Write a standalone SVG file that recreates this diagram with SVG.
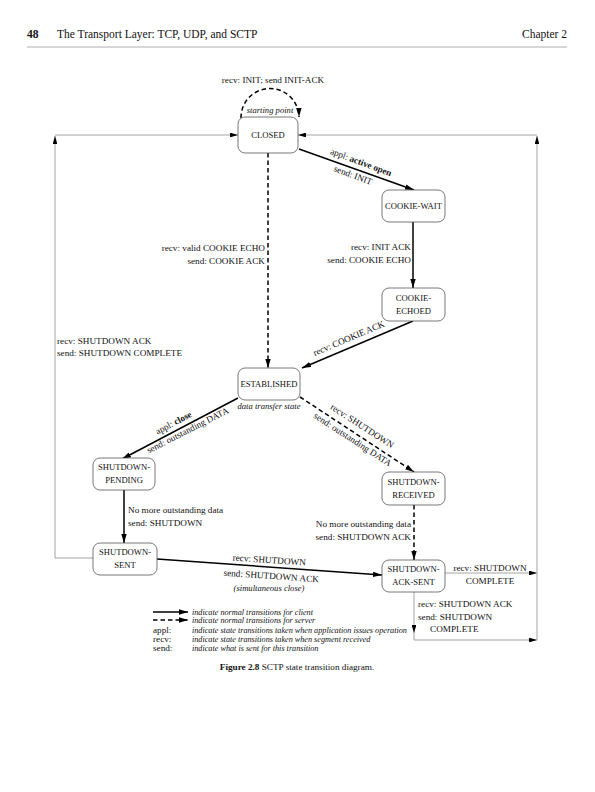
<svg xmlns="http://www.w3.org/2000/svg" width="595" height="792" viewBox="0 0 595 792">
<style>
text{font-family:"Liberation Serif","Times New Roman",serif;fill:#111;}
.t{font-size:9.2px;}
.n{font-size:8.6px;text-anchor:middle;}
.i{font-style:italic;font-size:8.6px;}
.lg{font-style:italic;font-size:8.2px;}
.hd{font-size:11.5px;}
.box{fill:#fff;stroke:#555;stroke-width:0.8;}
.bold{stroke:#000;stroke-width:1.5;fill:none;}
.dash{stroke:#000;stroke-width:1.5;fill:none;stroke-dasharray:4.5,3;}
.thin{stroke:#999;stroke-width:0.9;fill:none;}
</style>
<defs>
<marker id="ah" viewBox="0 0 10 6" refX="10" refY="3" markerWidth="9" markerHeight="5.4" markerUnits="userSpaceOnUse" orient="auto"><path d="M0,0 L10,3 L0,6 z" fill="#000"/></marker>
<marker id="as" viewBox="0 0 10 6" refX="10" refY="3" markerWidth="8" markerHeight="4.8" markerUnits="userSpaceOnUse" orient="auto"><path d="M0,0 L10,3 L0,6 z" fill="#000"/></marker>
</defs>

<g id="header">
<text x="27" y="38" class="hd" font-weight="bold">48</text>
<text x="57" y="38" class="hd">The Transport Layer: TCP, UDP, and SCTP</text>
<text x="567" y="38" class="hd" text-anchor="end">Chapter 2</text>
<line x1="27" y1="47" x2="567" y2="47" stroke="#999" stroke-width="0.8"/>
</g>

<g id="connectors">
<path class="dash" d="M241,118 A29,29 0 1 1 299,117" marker-end="url(#ah)"/>
<path class="thin" d="M93,558 H55 V136" marker-end="url(#as)"/>
<path class="thin" d="M55,135 H238" marker-end="url(#as)"/>
<path class="thin" d="M445,573 H537" marker-end="url(#as)"/>
<path class="thin" d="M414,592 V633" marker-end="url(#as)"/>
<path class="thin" d="M414,633 V640"/>
<path class="thin" d="M414,640 H537" marker-end="url(#as)"/>
<path class="thin" d="M537,640 V136" marker-end="url(#as)"/>
<path class="thin" d="M537,135 H298" marker-end="url(#as)"/>
<line class="bold" x1="299" y1="149" x2="414" y2="190" marker-end="url(#ah)"/>
<line class="bold" x1="413" y1="222" x2="413" y2="288" marker-end="url(#ah)"/>
<line class="bold" x1="413" y1="321" x2="302" y2="368" marker-end="url(#ah)"/>
<line class="dash" x1="268" y1="153" x2="268" y2="368" marker-end="url(#ah)"/>
<line class="bold" x1="238" y1="398" x2="122" y2="459" marker-end="url(#ah)"/>
<line class="dash" x1="300" y1="397" x2="414" y2="472" marker-end="url(#ah)"/>
<line class="bold" x1="124" y1="490" x2="124" y2="543" marker-end="url(#ah)"/>
<line class="dash" x1="414" y1="505" x2="414" y2="560" marker-end="url(#ah)"/>
<line class="bold" x1="157" y1="559" x2="382" y2="575" marker-end="url(#ah)"/>
</g>

<g id="labels">
<text x="273" y="83" class="t" text-anchor="middle">recv: INIT; send INIT-ACK</text>
<text x="270" y="113" class="i" text-anchor="middle">starting point</text>
<text class="t" text-anchor="middle" transform="translate(360,165) rotate(20.5)">appl: <tspan font-weight="bold">active open</tspan></text>
<text class="t" text-anchor="middle" transform="translate(352,178) rotate(20.5)">send: INIT</text>
<text x="411" y="250" class="t" text-anchor="end">recv: INIT ACK</text>
<text x="411" y="263" class="t" text-anchor="end">send: COOKIE ECHO</text>
<text x="265" y="251" class="t" text-anchor="end">recv: valid COOKIE ECHO</text>
<text x="265" y="264" class="t" text-anchor="end">send: COOKIE ACK</text>
<text class="t" text-anchor="middle" transform="translate(350,341) rotate(-23)">recv: COOKIE ACK</text>
<text x="57" y="344" class="t">recv: SHUTDOWN ACK</text>
<text x="57" y="356" class="t">send: SHUTDOWN COMPLETE</text>
<text x="269" y="409" class="i" text-anchor="middle">data transfer state</text>
<text class="t" text-anchor="middle" font-size="8.8px" transform="translate(175,425.5) rotate(-28)">appl: <tspan font-weight="bold">close</tspan></text>
<text class="t" text-anchor="middle" font-size="8.8px" transform="translate(189,433) rotate(-27)">send: outstanding DATA</text>
<text class="t" text-anchor="middle" transform="translate(360.5,428.5) rotate(33)">recv: SHUTDOWN</text>
<text class="t" text-anchor="middle" font-size="8.8px" transform="translate(351,442) rotate(33)">send: outstanding DATA</text>
<text x="128" y="513" class="t">No more outstanding data</text>
<text x="128" y="526" class="t">send: SHUTDOWN</text>
<text x="411" y="527" class="t" text-anchor="end">No more outstanding data</text>
<text x="411" y="540" class="t" text-anchor="end">send: SHUTDOWN ACK</text>
<text class="t" text-anchor="middle" transform="translate(269,563) rotate(4)">recv: SHUTDOWN</text>
<text class="t" text-anchor="middle" transform="translate(271,579) rotate(4)">send: SHUTDOWN ACK</text>
<text x="269" y="591" class="i" text-anchor="middle">(simultaneous close)</text>
<text x="490" y="571" class="t" text-anchor="middle">recv: SHUTDOWN</text>
<text x="490" y="584" class="t" text-anchor="middle">COMPLETE</text>
<text x="418" y="607" class="t">recv: SHUTDOWN ACK</text>
<text x="418" y="620" class="t">send: SHUTDOWN</text>
<text x="430" y="632" class="t">COMPLETE</text>
</g>

<g id="closed"><rect class="box" x="238" y="117" width="60" height="36" rx="7"/><text x="268" y="138" class="n">CLOSED</text></g>
<g id="cookie-wait"><rect class="box" x="382" y="190" width="63" height="32" rx="7"/><text x="413.5" y="209" class="n">COOKIE-WAIT</text></g>
<g id="cookie-echoed"><rect class="box" x="382" y="288" width="63" height="33" rx="7"/><text x="413.5" y="301" class="n">COOKIE-</text><text x="413.5" y="313.5" class="n">ECHOED</text></g>
<g id="established"><rect class="box" x="238" y="368" width="62" height="32" rx="7"/><text x="269" y="387" class="n">ESTABLISHED</text></g>
<g id="shutdown-pending"><rect class="box" x="93" y="458" width="62" height="32" rx="7"/><text x="124" y="470" class="n">SHUTDOWN-</text><text x="124" y="482.5" class="n">PENDING</text></g>
<g id="shutdown-sent"><rect class="box" x="93" y="543" width="64" height="32" rx="7"/><text x="125" y="555" class="n">SHUTDOWN-</text><text x="125" y="567.5" class="n">SENT</text></g>
<g id="shutdown-received"><rect class="box" x="382" y="472" width="63" height="33" rx="7"/><text x="413.5" y="485" class="n">SHUTDOWN-</text><text x="413.5" y="497.5" class="n">RECEIVED</text></g>
<g id="shutdown-ack-sent"><rect class="box" x="382" y="560" width="63" height="32" rx="7"/><text x="413.5" y="572" class="n">SHUTDOWN-</text><text x="413.5" y="584.5" class="n">ACK-SENT</text></g>

<g id="legend">
<line class="bold" x1="153" y1="612" x2="188" y2="612" marker-end="url(#ah)"/>
<line class="dash" x1="153" y1="620" x2="188" y2="620" marker-end="url(#ah)"/>
<text x="192" y="615" class="lg">indicate normal transitions for client</text>
<text x="192" y="623" class="lg">indicate normal transitions for server</text>
<text x="153" y="633" class="t" font-size="8.6px">appl:</text>
<text x="153" y="642" class="t" font-size="8.6px">recv:</text>
<text x="153" y="651" class="t" font-size="8.6px">send:</text>
<text x="192" y="633" class="lg">indicate state transitions taken when application issues operation</text>
<text x="192" y="642" class="lg">indicate state transitions taken when segment received</text>
<text x="192" y="651" class="lg">indicate what is sent for this transition</text>
</g>

<g id="caption">
<text x="297" y="670" class="t" text-anchor="middle"><tspan font-weight="bold">Figure 2.8</tspan>   SCTP state transition diagram.</text>
</g>
</svg>
